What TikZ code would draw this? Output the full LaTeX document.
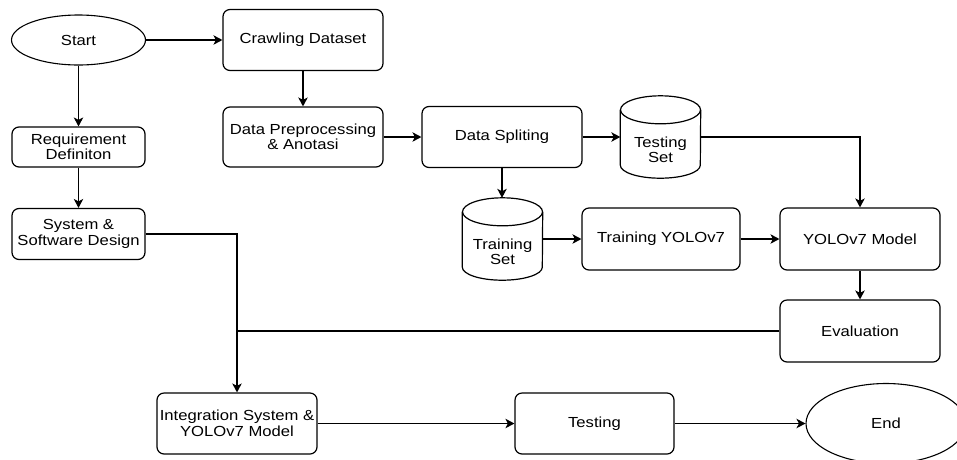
\documentclass[tikz,border=0pt]{standalone}
\usepackage{fontspec}
\setmainfont{Liberation Sans}[FakeStretch=1.14]
\usetikzlibrary{arrows.meta,shapes.geometric,calc}

\begin{document}
\begin{tikzpicture}[x=1pt,y=-1pt,
  font=\fontsize{14.6}{15.5}\selectfont,
  box/.style={draw, rounded corners=7pt, line width=1.2pt, align=center, inner sep=0pt},
  oval/.style={draw, ellipse, line width=1.1pt, inner sep=0pt},
  cylbody/.style={inner sep=0pt, minimum width=80pt, minimum height=82pt},
  cyledge/.style={line width=1.2pt},
  flow/.style={line width=1.1pt, -{Stealth[length=9pt,width=9.5pt,inset=2.5pt]}},
  wire/.style={line width=1.1pt},
]
\useasboundingbox (0,0) rectangle (957,459);

% left column
\node[oval, minimum width=134pt, minimum height=50pt] (start) at (78.5,40) {Start};
\node[box, minimum width=133pt, minimum height=40pt] (req) at (78.5,147) {Requirement\\Definiton};
\node[box, minimum width=133pt, minimum height=51pt] (sys) at (78.5,234) {System \&\\Software Design};

% data pipeline
\node[box, minimum width=160pt, minimum height=61pt] (crawl) at (303,40) {Crawling Dataset};
\node[box, minimum width=160pt, minimum height=60pt] (prep) at (303,137) {Data Preprocessing\\\& Anotasi};
\node[box, minimum width=160pt, minimum height=61pt] (split) at (502,137) {Data Spliting};
\node[cylbody, label={[align=center, yshift=-13pt]center:{Testing\\Set}}] (test) at (660.5,137) {};
\node[cylbody, label={[align=center, yshift=-13pt]center:{Training\\Set}}] (train) at (502.5,239) {};
\node[box, minimum width=158pt, minimum height=62pt] (trainyolo) at (661,239) {Training YOLOv7};
\node[box, minimum width=160pt, minimum height=62pt] (model) at (860,239) {YOLOv7 Model};
\node[box, minimum width=160pt, minimum height=62pt] (eval) at (860,331) {Evaluation};

% bottom row
\node[box, minimum width=160pt, minimum height=61pt] (integ) at (237,423.5) {Integration System \&\\YOLOv7 Model};
\node[box, minimum width=159pt, minimum height=61pt] (testing) at (594.5,423.5) {Testing};
\node[oval, minimum width=160pt, minimum height=80pt] (end) at (886,423.5) {End};

% cylinder outlines
\foreach \c in {test,train} {
  \draw[cyledge] ([yshift=-14pt]\c.north west) -- ([yshift=13pt]\c.south west)
    arc[start angle=180, end angle=360, x radius=40pt, y radius=13pt]
    -- ([yshift=-14pt]\c.north east);
  \draw[cyledge] ([yshift=-14pt]\c.north) ellipse[x radius=40pt, y radius=14pt];
}

% connectors
\draw[flow] (start) -- (crawl);
\draw[flow] (start.south) -- (req.north);
\draw[flow] (req) -- (sys);
\draw[flow] (crawl) -- (prep);
\draw[flow] (prep) -- (split);
\draw[flow] (split) -- (test);
\draw[flow] (split.south) -- (split.south |- train.north);
\draw[flow] (test.east) -| (model.north);
\draw[flow] (train) -- (trainyolo);
\draw[flow] (trainyolo) -- (model);
\draw[flow] (model) -- (eval);
\draw[flow] (sys.east) -| (integ.north);
\draw[wire] (eval.west) -- (eval.west -| integ.north);
\draw[flow] (integ) -- (testing);
\draw[flow] (testing) -- (end);
\end{tikzpicture}
\end{document}
